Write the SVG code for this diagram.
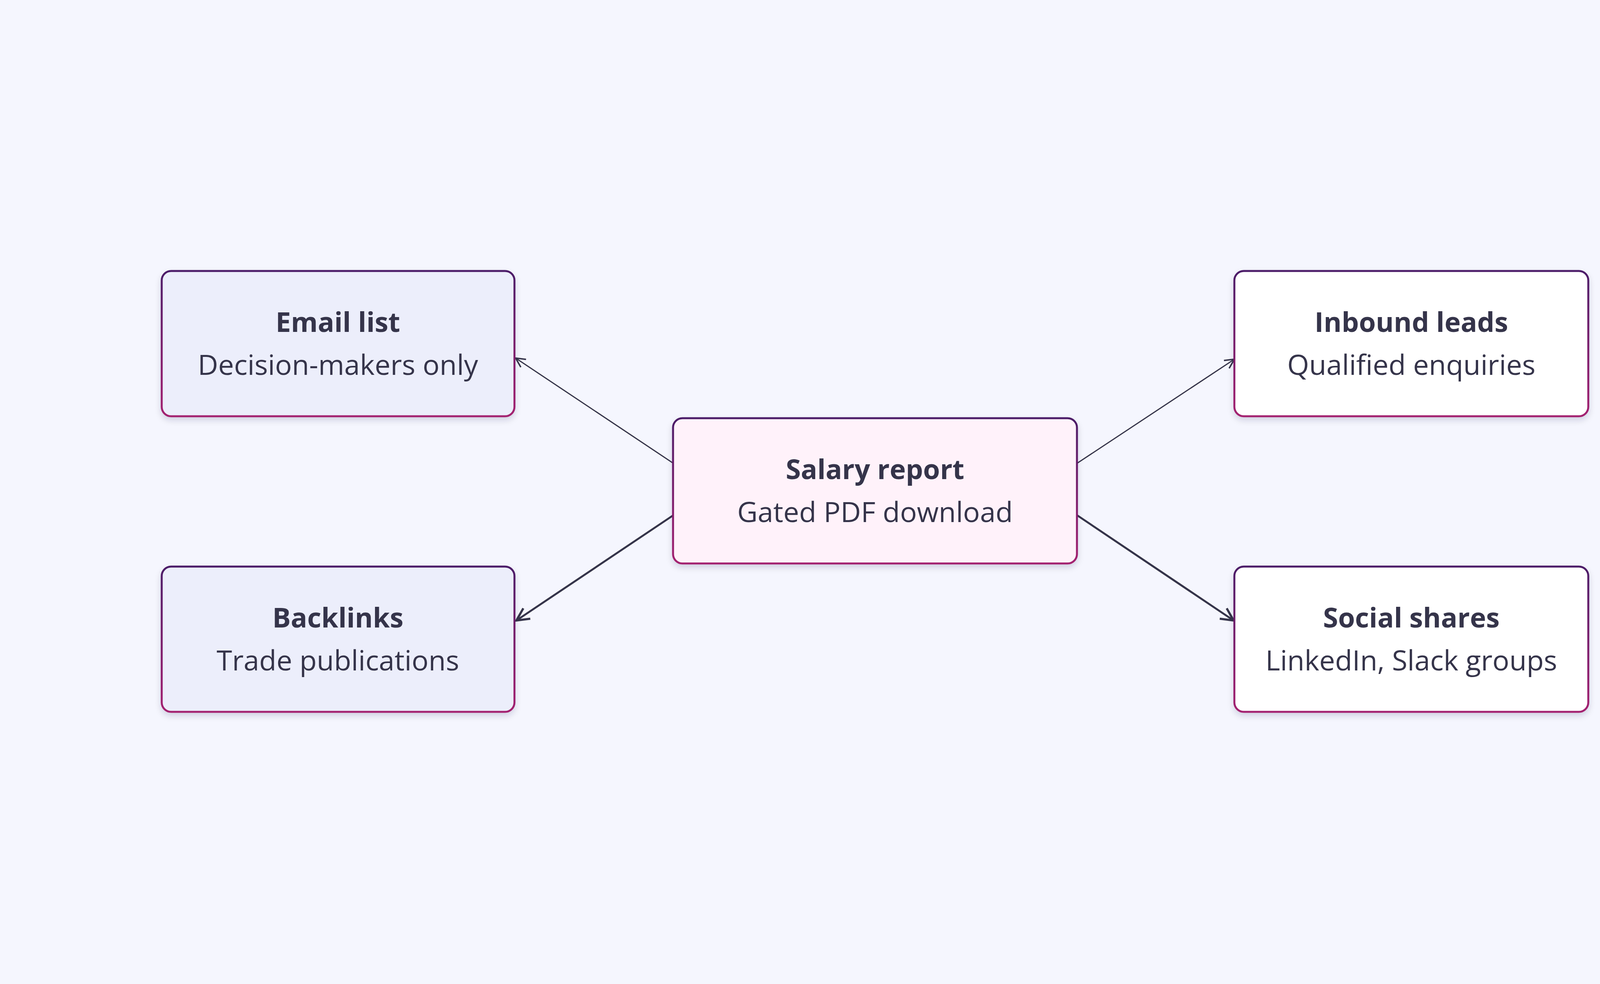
<svg xmlns="http://www.w3.org/2000/svg" width="4480" height="2520" viewBox="0 0 4480 2520">
<style>
.box{stroke:url(#bd);stroke-width:5;filter:url(#sh)}
.t{font-family:"Open Sans","Liberation Sans",sans-serif;font-weight:700;font-size:70px;fill:#35344a;text-anchor:middle}
.s{font-family:"Open Sans","Liberation Sans",sans-serif;font-size:72px;fill:#35344a;text-anchor:middle}
.e{stroke:#35344a;fill:none}
</style>
<defs>
<linearGradient id="bd" x1="0" y1="0" x2="0" y2="1"><stop offset="0" stop-color="#4c1a68"/><stop offset="1" stop-color="#a3206f"/></linearGradient>
<filter id="sh" x="-10%" y="-10%" width="120%" height="130%"><feDropShadow dx="0" dy="8" stdDeviation="8" flood-color="#1a1a40" flood-opacity="0.15"/></filter>
<marker id="a" viewBox="0 0 20 20" refX="18" refY="10" markerWidth="30" markerHeight="30" markerUnits="userSpaceOnUse" orient="auto"><path d="M2,2 L18,10 L2,18" fill="none" stroke="#35344a" stroke-width="2.5"/></marker>
<marker id="b" viewBox="0 0 20 20" refX="18" refY="10" markerWidth="40" markerHeight="40" markerUnits="userSpaceOnUse" orient="auto"><path d="M2,2 L18,10 L2,18" fill="none" stroke="#35344a" stroke-width="2.8"/></marker>
</defs>
<rect width="4480" height="2520" fill="#f5f6fe"/>
<g id="connectors">
<line class="e" stroke-width="3" x1="1723" y1="1186" x2="1320" y2="917" marker-end="url(#a)"/>
<line class="e" stroke-width="5" x1="1723" y1="1320" x2="1322" y2="1589" marker-end="url(#b)"/>
<line class="e" stroke-width="3" x1="2758" y1="1186" x2="3160" y2="920" marker-end="url(#a)"/>
<line class="e" stroke-width="5" x1="2758" y1="1320" x2="3158" y2="1589" marker-end="url(#b)"/>
</g>
<g id="email"><rect class="box" x="414" y="694" width="903" height="372" rx="24" fill="#eceefb"/><text class="t" x="865" y="850">Email list</text><text class="s" x="865" y="960">Decision-makers only</text></g>
<g id="backlinks"><rect class="box" x="414" y="1451" width="903" height="372" rx="24" fill="#eceefb"/><text class="t" x="865" y="1607">Backlinks</text><text class="s" x="865" y="1717">Trade publications</text></g>
<g id="salary"><rect class="box" x="1723" y="1071" width="1034" height="372" rx="24" fill="#fff2fa"/><text class="t" x="2240" y="1227">Salary report</text><text class="s" x="2240" y="1337">Gated PDF download</text></g>
<g id="inbound"><rect class="box" x="3160" y="694" width="906" height="372" rx="24" fill="#ffffff"/><text class="t" x="3613" y="850">Inbound leads</text><text class="s" x="3613" y="960">Qualified enquiries</text></g>
<g id="social"><rect class="box" x="3160" y="1451" width="906" height="372" rx="24" fill="#ffffff"/><text class="t" x="3613" y="1607">Social shares</text><text class="s" x="3613" y="1717">LinkedIn, Slack groups</text></g>
</svg>
